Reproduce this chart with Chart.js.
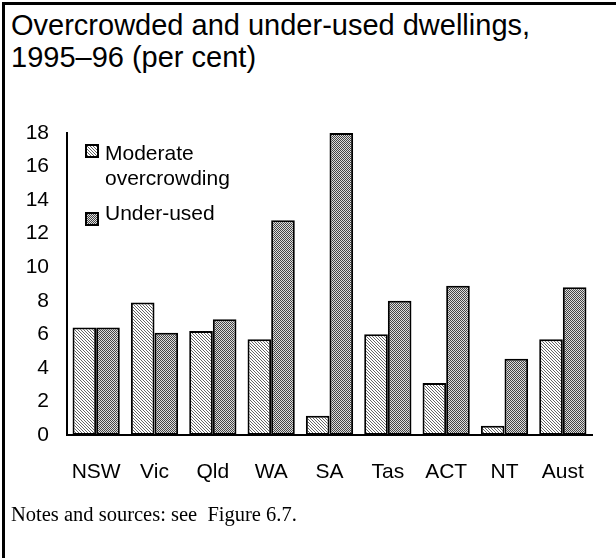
<html>
<head>
<style>
  body { margin: 0; background: #fff; }
  #wrap { position: relative; width: 616px; height: 558px; overflow: hidden; background: #fff; }
  #frame { position: absolute; left: 2px; top: 2px; width: 640px; height: 600px; border-top: 3px solid #000; border-left: 3px solid #000; }
  #title { position: absolute; left: 11px; top: 9px; font-family: "Liberation Sans", Arial, sans-serif; font-size: 29px; line-height: 32px; color: #000; white-space: nowrap; }
  #notes { position: absolute; left: 11px; top: 501px; font-family: "Liberation Serif", "Times New Roman", serif; font-size: 20.5px; line-height: 26px; white-space: pre; color: #000; }
  .leg { position: absolute; font-family: "Liberation Sans", Arial, sans-serif; font-size: 21px; line-height: 25px; color: #000; }
  .sw { position: absolute; width: 14px; height: 14px; border: 2px solid #000; box-sizing: border-box; }
  #chartBox { position: absolute; left: 0; top: 0; width: 616px; height: 558px; }
</style>
</head>
<body>
<div id="wrap">
  <div id="frame"></div>
  <div id="title">Overcrowded and under-used dwellings,<br>1995–96 (per cent)</div>
  <div id="chartBox"><canvas id="myChart" width="616" height="558"></canvas></div>
  <canvas class="sw" id="sw1" width="10" height="10" style="left:85px;top:144px"></canvas>
  <div class="leg" style="left:105px;top:140px">Moderate<br>overcrowding</div>
  <canvas class="sw" id="sw2" width="10" height="10" style="left:85px;top:212px"></canvas>
  <div class="leg" style="left:105px;top:200px">Under-used</div>
  <div id="notes">Notes and sources: see  Figure 6.7.</div>
</div>
<script src="https://cdn.jsdelivr.net/npm/chart.js@4.4.1/dist/chart.umd.min.js"></script>
<script>
var states = ['NSW', 'Vic', 'Qld', 'WA', 'SA', 'Tas', 'ACT', 'NT', 'Aust'];
var moderateOvercrowding = [6.4, 7.9, 6.2, 5.7, 1.15, 6.0, 3.1, 0.55, 5.7];
var underUsed = [6.4, 6.1, 6.9, 12.8, 18.0, 8.0, 8.9, 4.55, 8.8];
var yTicks = [0, 2, 4, 6, 8, 10, 12, 14, 16, 18];

// fill patterns like the old print hatching
function makePattern(kind) {
    var c = document.createElement('canvas');
    var ctx = c.getContext('2d');
    if (kind === 'hatch') {
        c.width = 3; c.height = 3;
        ctx.fillStyle = '#ffffff';
        ctx.fillRect(0, 0, 3, 3);
        ctx.fillStyle = '#666666';
        for (var i = 0; i < 3; i++) ctx.fillRect(i, i, 1, 1);
    } else {
        c.width = 2; c.height = 2;
        ctx.fillStyle = '#dddddd';
        ctx.fillRect(0, 0, 2, 2);
        ctx.fillStyle = '#444444';
        ctx.fillRect(0, 0, 1, 1);
        ctx.fillRect(1, 1, 1, 1);
    }
    return ctx.createPattern(c, 'repeat');
}

var ctx = document.getElementById('myChart').getContext('2d');
var hatch = makePattern('hatch');
var dots = makePattern('dots');

['sw1', 'sw2'].forEach(function (id, k) {
    var s = document.getElementById(id).getContext('2d');
    s.fillStyle = k === 0 ? makePattern('hatch') : makePattern('dots');
    s.fillRect(0, 0, 10, 10);
});

var chart = new Chart(ctx, {
    type: 'bar',
    data: {
        labels: states,
        datasets: [
            {
                label: 'Moderate overcrowding',
                data: moderateOvercrowding,
                backgroundColor: hatch,
                borderColor: '#000',
                borderWidth: 2,
                borderSkipped: false
            },
            {
                label: 'Under-used',
                data: underUsed,
                backgroundColor: dots,
                borderColor: '#000',
                borderWidth: 2,
                borderSkipped: false
            }
        ]
    },
    options: {
        responsive: false,
        animation: false,
        layout: { padding: { top: 133, right: 24, left: 0, bottom: 0 } },
        plugins: { legend: { display: false }, tooltip: { enabled: false } },
        datasets: { bar: { categoryPercentage: 0.81, barPercentage: 1.0 } },
        scales: {
            x: {
                grid: { display: false, drawTicks: false },
                border: { color: '#000', width: 2 },
                ticks: { color: '#000', padding: 25, maxRotation: 0, font: { family: 'Liberation Sans', size: 21 } },
                afterFit: function (s) { s.height = 123; }
            },
            y: {
                min: 0,
                max: 18,
                grid: { display: false, drawTicks: false },
                border: { color: '#000', width: 2 },
                afterBuildTicks: function (s) { s.ticks = yTicks.map(function (v) { return { value: v }; }); },
                ticks: { color: '#000', padding: 18, font: { family: 'Liberation Sans', size: 21 } },
                afterFit: function (s) { s.width = 67; }
            }
        }
    }
});
</script>
</body>
</html>
